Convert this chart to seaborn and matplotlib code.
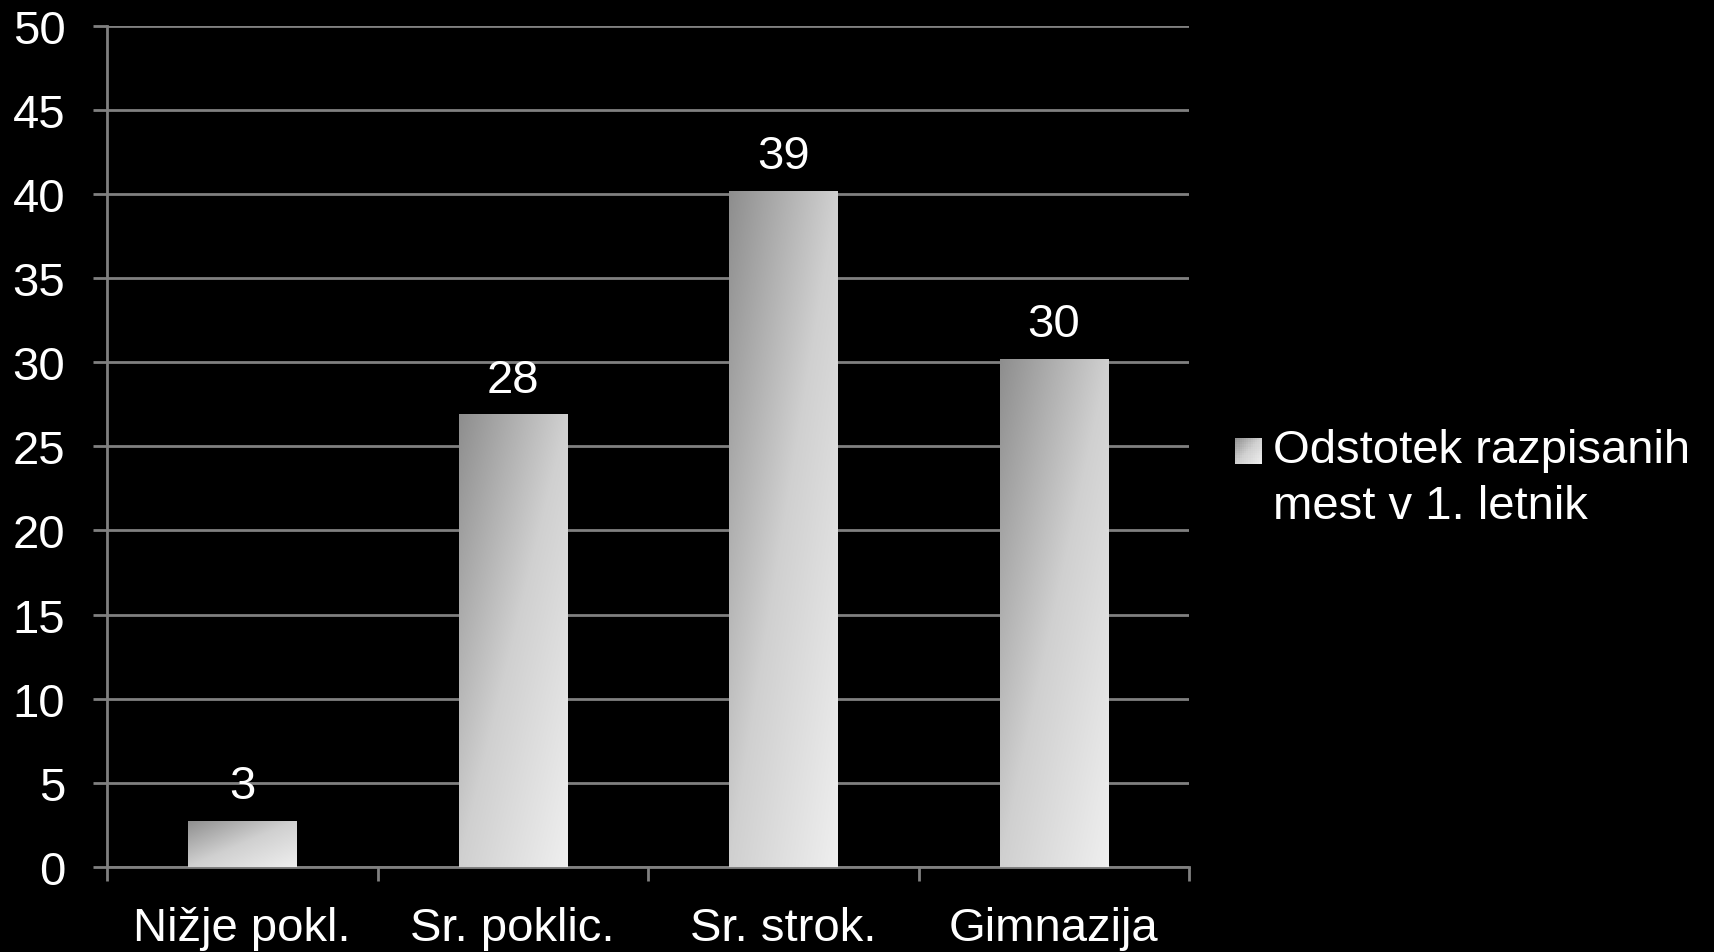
import numpy as np
import pandas as pd
import matplotlib
matplotlib.use("Agg")
import matplotlib.pyplot as plt
import seaborn as sns
from matplotlib.colors import LinearSegmentedColormap
from matplotlib.patches import Rectangle
from matplotlib.legend_handler import HandlerBase

categories = ["Nižje pokl.", "Sr. poklic.", "Sr. strok.", "Gimnazija"]
values = [2.75, 26.9, 40.2, 30.2]
value_labels = ["3", "28", "39", "30"]
series_name = "Odstotek razpisanih\nmest v 1. letnik"
yticks = [0, 5, 10, 15, 20, 25, 30, 35, 40, 45, 50]

sns.set_theme(style="dark")
plt.rcParams['font.family'] = ['Liberation Sans', 'DejaVu Sans']

df = pd.DataFrame({"cat": categories, "val": values})

fig = plt.figure(figsize=(17.15, 9.53), dpi=100, facecolor="black")
ax = fig.add_axes([0.0624, 0.0892, 0.6309, 0.8828])
ax.set_facecolor("black")

sns.barplot(data=df, x="cat", y="val", width=0.4, color="#c8c8c8", ax=ax,
            saturation=1, zorder=3)

cmap = LinearSegmentedColormap.from_list("g", [(0, "#8e8e8e"), (0.5, "#d0d0d0"), (1, "#efefef")])
uu, vv = np.meshgrid(np.linspace(0, 1, 200), np.linspace(0, 1, 200))
grad = (uu + vv) / 2.0  # row 0 = top (dark at top-left)

for p, lab in zip(ax.patches, value_labels):
    x0, y0 = p.get_x(), p.get_y()
    w, h = p.get_width(), p.get_height()
    p.set_facecolor("none")
    p.set_edgecolor("none")
    im = ax.imshow(grad, cmap=cmap, vmin=0, vmax=1, aspect="auto",
                   extent=[x0, x0 + w, y0, y0 + h], origin="upper", zorder=3,
                   interpolation="bilinear")
    im.set_clip_path(p)
    ax.annotate(lab, (x0 + w / 2, y0 + h), xytext=(0, 9), textcoords="offset points",
                ha="center", va="bottom", color="white", fontsize=34)

ax.set_xlim(-0.5, len(categories) - 0.5)
ax.set_ylim(0, 50)
ax.set_yticks(yticks)
ax.set_yticklabels([str(t) for t in yticks])
ax.set_xlabel("")
ax.set_ylabel("")

ax.grid(axis="y", color="#808080", linewidth=2, zorder=1)
ax.grid(axis="x", visible=False)
for s in ["top", "right"]:
    ax.spines[s].set_visible(False)
for s in ["left", "bottom"]:
    ax.spines[s].set_visible(True)
    ax.spines[s].set_color("#808080")
    ax.spines[s].set_linewidth(2)
    ax.spines[s].set_zorder(2)

ax.tick_params(axis="y", colors="#808080", labelcolor="white", labelsize=34,
               length=10, width=2, direction="out", pad=20, left=True)
ax.tick_params(axis="x", bottom=False, labelcolor="white", labelsize=34, pad=22)
ax.set_xticks(np.arange(-0.5, len(categories), 1.0), minor=True)
ax.tick_params(axis="x", which="minor", bottom=True, colors="#808080",
               length=10, width=2, direction="out")


class GradHandler(HandlerBase):
    def create_artists(self, legend, orig_handle, xdescent, ydescent, width, height, fontsize, trans):
        s = 19.0
        x = xdescent + width - s
        y = ydescent + (height - s) / 2 + 20.0
        n = 12
        arts = []
        d = s / n
        for i in range(n):
            for j in range(n):
                u = (i + 0.5) / n
                v = (j + 0.5) / n  # from top
                c = cmap((u + v) / 2)
                arts.append(Rectangle((x + i * d, y + s - (j + 1) * d), d * 1.05, d * 1.05,
                                      facecolor=c, edgecolor="none", transform=trans))
        return arts


handle = Rectangle((0, 0), 1, 1)
leg = fig.legend([handle], [series_name], loc="center left",
                 bbox_to_anchor=(0.704, 0.497), frameon=False, fontsize=34,
                 labelcolor="white", handler_map={Rectangle: GradHandler()},
                 handlelength=0.75, handletextpad=0.25, borderaxespad=0)
for t in leg.get_texts():
    t.set_linespacing(1.35)

fig.savefig("out.png", dpi=100, facecolor="black")
